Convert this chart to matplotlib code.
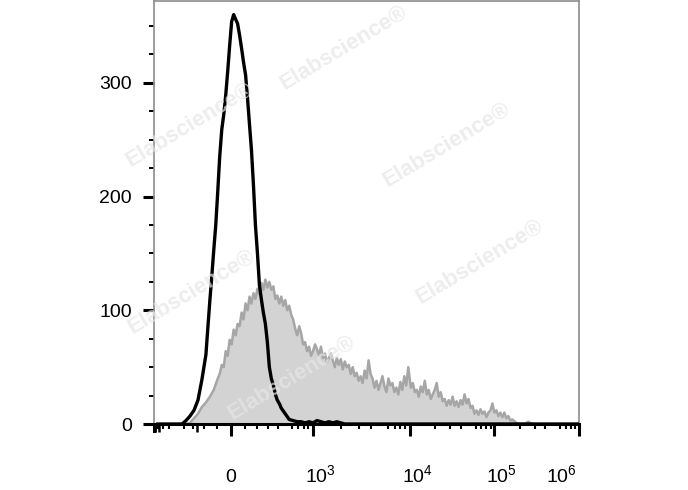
import numpy as np
import matplotlib
matplotlib.use('Agg')
import matplotlib.pyplot as plt
from matplotlib.transforms import ScaledTranslation

plt.rcParams['font.family'] = ['Liberation Sans', 'DejaVu Sans']
plt.rcParams['mathtext.fontset'] = 'custom'
plt.rcParams['mathtext.rm'] = 'Liberation Sans'
plt.rcParams['mathtext.it'] = 'Liberation Sans:italic'
plt.rcParams['mathtext.bf'] = 'Liberation Sans:bold'

#------------------------------DATA-------------------
# stained sample, grey filled histogram
stained_x = [-375, -331, -291, -253, -218, -184, -152, -122, -92, -78,
             -63, -49, -35, -21, -7, 7, 21, 35, 49, 63,
             78, 92, 107, 122, 137, 152, 168, 184, 201, 218,
             236, 253, 272, 291, 311, 331, 353, 375, 397, 421,
             445, 471, 497, 525, 553, 584, 614, 647, 681, 717,
             753, 792, 832, 874, 918, 964, 1012, 1063, 1114, 1170,
             1227, 1287, 1350, 1416, 1484, 1556, 1632, 1710, 1794, 1880,
             1972, 2067, 2166, 2271, 2381, 2493, 2611, 2737, 2866, 3005,
             3150, 3300, 3460, 3622, 3798, 3977, 4167, 4365, 4575, 4793,
             5022, 5262, 5514, 5776, 6051, 6337, 6642, 6957, 7290, 7636,
             8001, 8380, 8781, 9196, 9636, 10270, 10850, 11450, 12090, 12760,
             13470, 14220, 15020, 15850, 16730, 17670, 18650, 19690, 20780, 21940,
             23160, 24450, 25810, 27250, 28760, 30370, 32050, 33850, 35720, 37720,
             39810, 42040, 44370, 46850, 49440, 52210, 55100, 58180, 61410, 64840,
             68430, 72260, 76270, 80530, 84990, 89740, 94740, 100000, 105600, 111400,
             117700, 124200, 131100, 138400, 146100, 154200, 162900, 181500, 202300, 225400,
             251200, 280000]
stained_count = [0, 1, 5, 9, 15, 19, 24, 30, 40, 44,
                 52, 50, 64, 60, 74, 70, 83, 78, 88, 86,
                 98, 92, 106, 100, 112, 106, 115, 110, 119, 114,
                 124, 118, 127, 120, 125, 118, 121, 110, 113, 106,
                 112, 104, 109, 100, 104, 96, 92, 84, 78, 86,
                 80, 70, 72, 64, 68, 60, 64, 70, 66, 60,
                 68, 58, 62, 54, 58, 62, 56, 50, 58, 52,
                 57, 48, 55, 50, 52, 44, 50, 42, 45, 38,
                 42, 36, 47, 40, 56, 44, 40, 32, 38, 30,
                 36, 42, 33, 28, 40, 34, 36, 28, 32, 26,
                 37, 30, 42, 34, 50, 32, 36, 28, 30, 24,
                 33, 28, 38, 26, 30, 22, 26, 30, 36, 24,
                 28, 20, 22, 16, 21, 17, 24, 16, 20, 15,
                 21, 17, 26, 18, 22, 14, 16, 9, 12, 8,
                 13, 9, 11, 6, 10, 12, 18, 10, 12, 7,
                 10, 6, 10, 5, 7, 3, 4, 1, 0, 0,
                 2, 0]

# unstained control, black line
control_x = [-800, -471, -421, -375, -331, -291, -253, -218, -184, -168,
             -152, -137, -122, -107, -92, -78, -63, -49, -35, -21,
             -7, 7, 21, 35, 49, 63, 78, 92, 107, 122,
             137, 152, 168, 184, 201, 218, 236, 253, 272, 291,
             311, 331, 353, 375, 397, 421, 445, 497, 553, 614,
             681, 753, 832, 918, 1012, 1114, 1227, 1350, 1484, 1632,
             1794, 1972, 2166, 2381, 1000000]
control_count = [0, 0, 0, 3, 7, 12, 21, 39, 61, 85,
                 109, 130, 153, 175, 205, 235, 259, 272, 289, 310,
                 333, 354, 360, 356, 352, 342, 330, 318, 307, 286,
                 263, 241, 210, 175, 150, 122, 109, 98, 88, 72,
                 50, 40, 34, 26, 21, 18, 14, 9, 4, 3,
                 2, 2, 1, 2, 1, 3, 2, 1, 2, 1,
                 2, 1, 0, 0, 0]

x_major = [0, 1e3, 1e4, 1e5, 1e6]
x_major_labels = ['0', '$10^{3}$', '$10^{4}$', '$10^{5}$', '$10^{6}$']
x_mid = [-500, 500, 5e3, 5e4, 5e5,
         -90, -80, -70, -60, -50, -40, -30, -20, -10,
         10, 20, 30, 40, 50, 60, 70, 80, 90]
x_minor = [-800, -700, -600, -400, -300, -200, -100,
           100, 200, 300, 400, 600, 700, 800, 900,
           2e3, 3e3, 4e3, 6e3, 7e3, 8e3, 9e3,
           2e4, 3e4, 4e4, 6e4, 7e4, 8e4, 9e4,
           2e5, 3e5, 4e5, 6e5, 7e5, 8e5, 9e5]
y_major = [0, 100, 200, 300]
y_minor = [25, 50, 75, 125, 150, 175, 225, 250, 275, 325, 350]
#---------------------------------END DATA------------------------------------

# logicle-like axis: asinh near zero, pure log above 10^4
COF = 300.0
U_KNOT = [-40.0, 0.0, 4.2, 40.0]
P_KNOT = [-40.0, 0.0, 4.2, 4.2 + 0.861 * 35.8]

def fwd(x):
    u = np.arcsinh(np.asarray(x, dtype=float) / COF)
    return np.interp(u, U_KNOT, P_KNOT)

def inv(p):
    u = np.interp(np.asarray(p, dtype=float), P_KNOT, U_KNOT)
    return COF * np.sinh(u)

fig = plt.figure(figsize=(6.88, 4.9), dpi=100)
ax = fig.add_axes([154 / 688, 66 / 490, 425 / 688, 423 / 490])
ax.set_xscale('function', functions=(fwd, inv))

ax.fill_between(stained_x, stained_count, 0, color='#d3d3d3', lw=0, zorder=1)
ax.plot(stained_x, stained_count, color='#a6a6a6', lw=1.8, zorder=2)
ax.plot(control_x, control_count, color='k', lw=2.4, zorder=3)

ax.set_xlim(-880, 1e6)
ax.set_ylim(0, 372)

# ticks
ax.set_xticks(x_major, x_major_labels)
ax.set_xticks(x_minor, minor=True)
ax.tick_params(axis='x', which='major', direction='out', length=8.6, width=2.2,
               pad=33, labelsize=14)
ax.tick_params(axis='x', which='minor', direction='out', length=3.6, width=1.5)
ax.set_yticks(y_major)
ax.set_yticks(y_minor, minor=True)
ax.tick_params(axis='y', which='major', direction='out', length=8, width=2.2,
               pad=8, labelsize=14)
ax.tick_params(axis='y', which='minor', direction='out', length=3.6, width=1.4)

# medium-length ticks on a twin sharing the same x scale
ax2 = ax.twiny()
ax2.xaxis.tick_bottom()
ax2.set_xticks(x_mid)
ax2.tick_params(axis='x', direction='out', length=5.5, width=1.8,
                labelbottom=False, labeltop=False)
for s in ax2.spines.values():
    s.set_visible(False)

for side in ['left', 'top', 'right']:
    ax.spines[side].set_color('#8c8c8c')
    ax.spines[side].set_linewidth(1.2)
ax.spines['bottom'].set_color('k')
ax.spines['bottom'].set_linewidth(2.2)

# FlowJo puts the decade labels a bit off their ticks
offs = [0, 8, 8, 7, -18]
for lbl, dx in zip(ax.get_xticklabels(), offs):
    lbl.set_verticalalignment('baseline')
    lbl.set_transform(lbl.get_transform() + ScaledTranslation(dx / 100, 0, fig.dpi_scale_trans))

# watermark
wm = [(190, 125), (344, 48), (447, 145), (192, 292), (480, 262), (292, 378)]
for cx, cy in wm:
    fig.text(cx / 688, 1 - cy / 490, 'Elabscience®', rotation=31, rotation_mode='anchor',
             ha='center', va='center', fontsize=16, fontweight='bold',
             color='#e6e6e6', alpha=0.7, zorder=10)

fig.savefig('out.png', dpi=100)
